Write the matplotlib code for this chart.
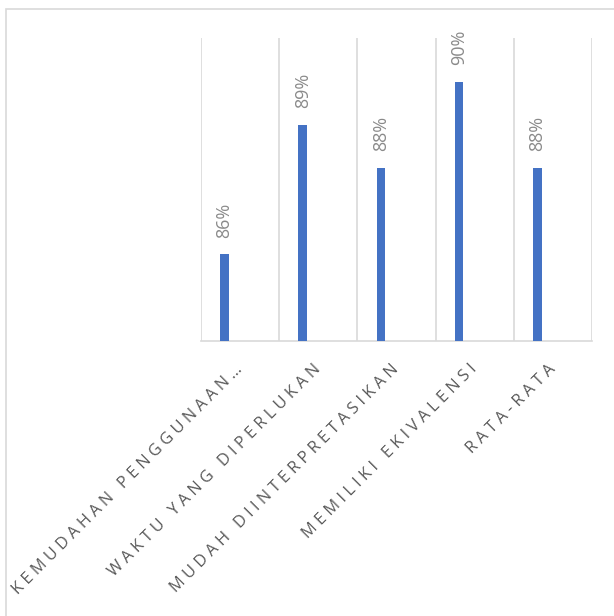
import matplotlib.pyplot as plt
from matplotlib.patches import Rectangle

categories = ['KEMUDAHAN PENGGUNAAN…', 'WAKTU YANG DIPERLUKAN', 'MUDAH DIINTERPRETASIKAN',
              'MEMILIKI EKIVALENSI', 'RATA-RATA']
values = [86, 89, 88, 90, 88]
value_labels = ['86%', '89%', '88%', '90%', '88%']

plt.rcParams['font.family'] = ['Open Sans', 'DejaVu Sans']

def spaced(s):
    # excel-style letter spacing
    return ' '.join(s)

fig = plt.figure(figsize=(6.14, 6.16), dpi=100)
ax = fig.add_axes([201/614, 1 - 340.7/616, (592-201)/614, (340.7-38.3)/616])

# outer chart-area border (cropped at right and bottom)
fig.patches.append(Rectangle((6/614, -0.1), 1.2, 1 - 9/616 + 0.1, transform=fig.transFigure,
                             fill=False, edgecolor='#D9D9D9', linewidth=1.2))

x = list(range(len(categories)))
bx = [i - 0.2 for i in x]
ax.bar(bx, values, width=0.11, color='#4472C4', zorder=3)

for xi, v, lab in zip(bx, values, value_labels):
    ax.annotate(lab, (xi, v), xytext=(0, 12), textcoords='offset points',
                rotation=90, ha='center', va='bottom', color='#8A8A8A', fontsize=13)

ax.set_xlim(-0.5, len(categories) - 0.5)
ax.set_ylim(84, 91)
for b in range(len(categories) + 1):
    ax.axvline(b - 0.5, color='#D9D9D9', linewidth=1.2, zorder=1)

ax.set_yticks([])
ax.set_xticks(x)
ax.set_xticklabels([spaced(c) for c in categories], rotation=45, ha='right', va='center',
                   rotation_mode='anchor', color='#595959', fontsize=11.8)
ax.tick_params(axis='x', length=0, pad=19)
for s in ['left', 'right', 'top']:
    ax.spines[s].set_visible(False)
ax.spines['bottom'].set_color('#D9D9D9')
ax.spines['bottom'].set_linewidth(1.2)
ax.patch.set_alpha(0)

fig.savefig('out.png', dpi=100)
